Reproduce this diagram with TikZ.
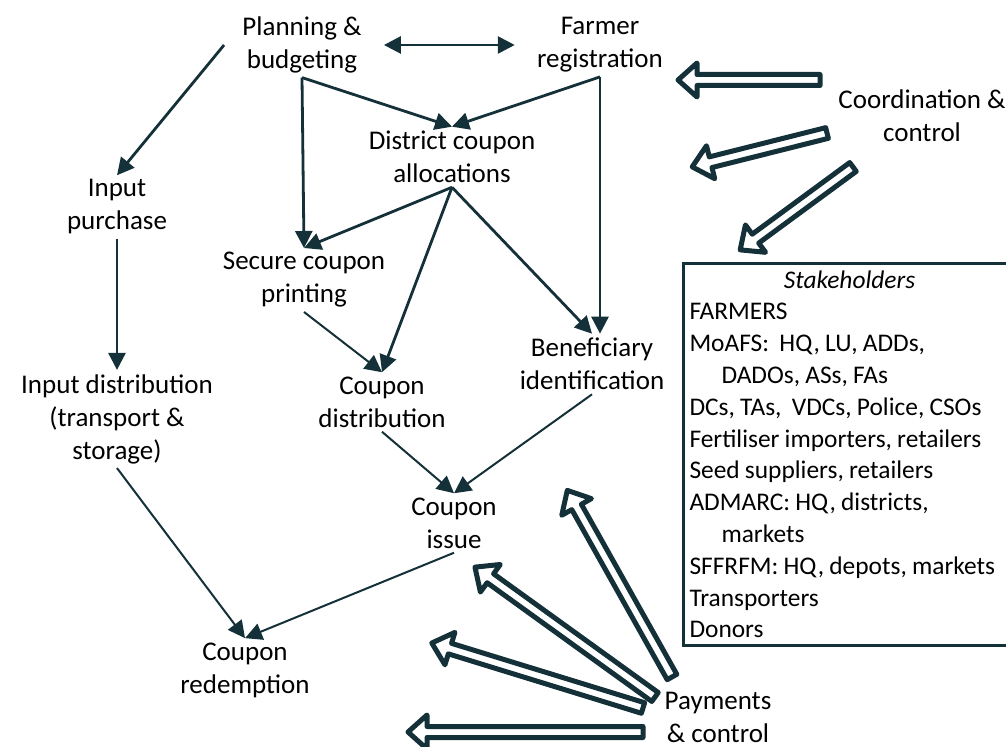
\documentclass[tikz,border=0pt]{standalone}
\usepackage{fontspec}
\setmainfont{Carlito}
\usetikzlibrary{arrows.meta}

\definecolor{ink}{RGB}{20,48,56}
\tikzset{
  lbl/.style={align=center,inner sep=2pt,font=\fontsize{13.5}{16.5}\selectfont},
  arr/.style={-{Triangle[length=8.5pt,width=8.5pt]},line width=1.4pt,draw=ink},
  arrthin/.style={arr,line width=1pt},
  fat/.style={draw=ink,line width=2.5pt,line join=round,fill=white},
}
% hollow block arrow: tail point, angle, length
\newcommand{\fatarrow}[3]{%
  \begin{scope}[shift={#1},rotate=#2]
    \draw[fat] (0,-5.5) -- (#3-19,-5.5) -- (#3-19,-17) -- (#3,0)
      -- (#3-19,17) -- (#3-19,5.5) -- (0,5.5) -- cycle;
  \end{scope}}

\begin{document}
\begin{tikzpicture}[x=0.5pt,y=-0.5pt]
\useasboundingbox (0,0) rectangle (1006,747);
% process steps
\node[lbl] (plan)   at (302,45)  {Planning \&\\budgeting};
\node[lbl] (farmer) at (600,45)  {Farmer\\registration};
\node[lbl] (dist)   at (452,157) {District coupon\\allocations};
\node[lbl] (inpur)  at (117,207) {Input\\purchase};
\node[lbl] (secure) at (304,280) {Secure coupon\\printing};
\node[lbl] (benef)  at (592,364) {Beneficiary\\identification};
\node[lbl] (cdist)  at (382,402) {Coupon\\distribution};
\node[lbl] (indist) at (117,419) {Input distribution\\(transport \&\\storage)};
\node[lbl] (cissue) at (454,523) {Coupon\\issue};
\node[lbl] (redem)  at (245,670) {Coupon\\redemption};
\node[lbl] (coord)  at (922,116) {Coordination \&\\control};
\node[lbl] (pay)    at (718,717) {Payments\\\& control};
% stakeholders
\node[draw=ink,line width=1.5pt,anchor=north west,inner xsep=3pt,inner ysep=3.5pt,
  text width=180pt,align=left,font=\fontsize{12.7}{15.9}\selectfont] (stake) at (682,262)
  {\spaceskip=2.6pt\relax
   \makebox[160pt]{\textit{Stakeholders}}\\
   FARMERS\\
   MoAFS:~ HQ, LU, ADDs,\\
   \hspace*{16pt}DADOs, ASs, FAs\\
   DCs, TAs,~ VDCs, Police, CSOs\\
   Fertiliser importers, retailers\\
   Seed suppliers, retailers\\
   ADMARC: HQ, districts,\\
   \hspace*{16pt}markets\\
   SFFRFM: HQ, depots, markets\\
   Transporters\\
   Donors};
% flows
\draw[arr,{Triangle[length=8.5pt,width=8.5pt]}-{Triangle[length=8.5pt,width=8.5pt]},
  shorten <=9pt,shorten >=9pt] (plan.east) -- (farmer.west);
\draw[arr] ([xshift=-7pt]plan.west) -- (inpur.north);
\draw[arr] (inpur.south) -- (indist.north);
\draw[arr] (plan.south) -- (dist.north);
\draw[arr] (farmer.south) -- (dist.north);
\draw[arr] (plan.south) -- (secure.north);
\draw[arr] (farmer.south) -- (farmer.south |- benef.north);
\draw[arr] (dist.south) -- (secure.north);
\draw[arr] (dist.south) -- (cdist.north);
\draw[arr] (dist.south) -- (benef.north);
\draw[arrthin] (secure.south) -- (cdist.north);
\draw[arrthin] (cdist.south) -- (cissue.north);
\draw[arrthin] (benef.south) -- (cissue.north);
\draw[arrthin] (indist.south) -- (redem.north);
\draw[arrthin] (cissue.south) -- (redem.north);
% coordination & control
\fatarrow{(820,80)}{180}{142}
\fatarrow{(827,133)}{194.1}{139}
\fatarrow{(853,167)}{216.3}{140}
% payments & control
\fatarrow{(672,677)}{119.3}{214}
\fatarrow{(655,697)}{144.2}{222}
\fatarrow{(643,708)}{162.9}{221}
\fatarrow{(643,732)}{180}{235}
\end{tikzpicture}
\end{document}
